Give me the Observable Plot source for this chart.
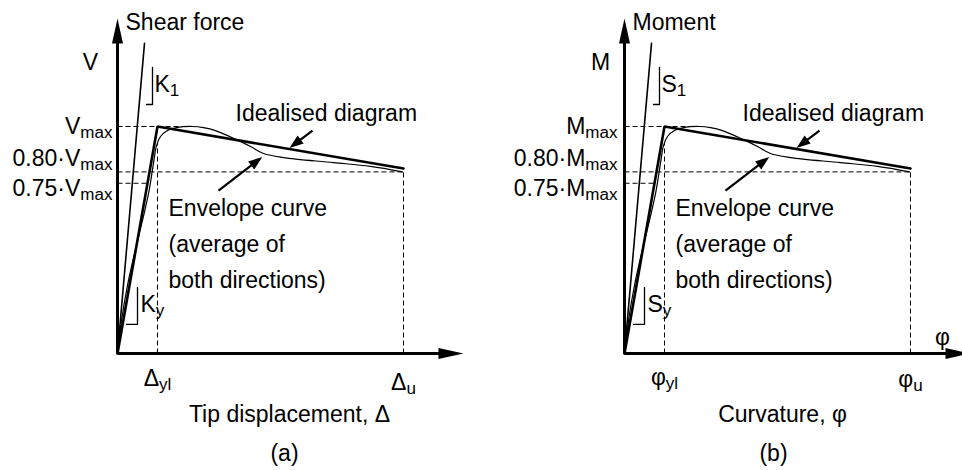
<!DOCTYPE html>
<html><head><meta charset="utf-8">
<script src="https://cdn.jsdelivr.net/npm/d3@7"></script>
<script src="https://cdn.jsdelivr.net/npm/@observablehq/plot@0.6"></script>
<style>
body{margin:0;background:#fff;}
#wrap{position:relative;width:962px;height:470px;overflow:hidden;background:#fff;}
#wrap svg{position:absolute;top:0;}
</style></head><body><div id="wrap"></div>
<script>
// ---------------- DATA (force normalised by Vmax, displacement by Δyl) ----------------
const envelopeDisp  = [0, 0.10, 0.25, 0.425, 0.625, 0.79, 0.91, 0.975, 1.075, 1.25, 1.5, 1.875, 2.15, 2.45, 3.0, 3.325, 3.65, 4.15, 5.4, 6.325, 7.125];
const envelopeForce = [0, 0.145, 0.30, 0.44, 0.586, 0.718, 0.85, 0.916, 0.956, 0.982, 0.996, 1.0, 0.995, 0.982, 0.94, 0.912, 0.881, 0.863, 0.841, 0.824, 0.80];
const idealDisp  = [0, 1, 7.15];
const idealForce = [0, 1, 0.815];
const k1Disp  = [0, 0.675];
const k1Force = [0, 1.366];
const levelValues = [1.0, 0.80, 0.75];
const dispYl = 1;
const dispU  = 7.15;
const axisTopValue = 1.476;
const axisEndValue = 8.65;

const panelALabels = {axisName: "Shear force", sym: "V", levels: ["V_max", "0.80·V_max", "0.75·V_max"],
  k1: "K_1", ky: "K_y", ticks: ["Δ_yl", "Δ_u"], xTitle: "Tip displacement, Δ", tag: "(a)", xSym: null};
const panelBLabels = {axisName: "Moment", sym: "M", levels: ["M_max", "0.80·M_max", "0.75·M_max"],
  k1: "S_1", ky: "S_y", ticks: ["φ_yl", "φ_u"], xTitle: "Curvature, φ", tag: "(b)", xSym: "φ"};

// ---------------- LAYOUT ----------------
const X_RANGE = [117, 157], Y_RANGE = [353, 126];
const PXX = X_RANGE[1] - X_RANGE[0], PXY = Y_RANGE[0] - Y_RANGE[1];
const FS = 23;
const layoutA = {symX: -0.675, xTitleX: 4.3, tagX: 4.175, tickDy: [25, 29], levelDx: -5};
const layoutB = {symX: -0.6, xTitleX: 3.95, tagX: 3.725, tickDy: [24, 26], levelDx: -7};

function headSymbol(ux, uy, len, half) {
  const bx = -ux * len, by = -uy * len, px = -uy * half, py = ux * half;
  return {draw(ctx) { ctx.moveTo(0, 0); ctx.lineTo(bx + px, by + py); ctx.lineTo(bx - px, by - py); ctx.closePath(); }};
}
function arrowMarks(x1, y1, x2, y2, len, half, width) {
  const dxp = (x2 - x1) * PXX, dyp = -(y2 - y1) * PXY;
  const L = Math.hypot(dxp, dyp), ux = dxp / L, uy = dyp / L;
  const sx = x2 - ux * (len - 3) / PXX, sy = y2 + uy * (len - 3) / PXY;
  return [
    Plot.link([0], {x1: [x1], y1: [y1], x2: [sx], y2: [sy], stroke: "black", strokeWidth: width}),
    Plot.dot([0], {x: [x2], y: [y2], symbol: headSymbol(ux, uy, len, half), fill: "black", stroke: "none"})
  ];
}
const T = (text, x, y, o = {}) => Plot.text([0], {x: [x], y: [y], text: [text], fontSize: FS, fill: "black",
  textAnchor: "start", lineAnchor: "middle", ...o});

function interp(xs, ys, x) {
  for (let i = 1; i < xs.length; i++) if (xs[i] >= x) {
    const t = (x - xs[i - 1]) / (xs[i] - xs[i - 1]); return ys[i - 1] + t * (ys[i] - ys[i - 1]);
  }
  return ys[ys.length - 1];
}

function makePanel(lab, lay) {
  const peakDisp = envelopeDisp[d3.maxIndex(envelopeForce)];
  const guides = [
    {x1: 0, y1: levelValues[0], x2: peakDisp, y2: levelValues[0]},
    {x1: 0, y1: levelValues[1], x2: dispU, y2: levelValues[1]},
    {x1: 0, y1: levelValues[2], x2: levelValues[2] * idealDisp[1] / idealForce[1], y2: levelValues[2]},
    {x1: dispYl, y1: 0, x2: dispYl, y2: interp(envelopeDisp, envelopeForce, dispYl)},
    {x1: dispU, y1: 0, x2: dispU, y2: levelValues[1]}
  ];
  const k1Br = [[0.875, 1.26], [0.875, 1.097], [0.725, 1.097]];
  const kyBr = [[0.5, 0.291], [0.5, 0.128], [0.225, 0.128]];
  const marks = [
    Plot.link(guides, {x1: "x1", y1: "y1", x2: "x2", y2: "y2", stroke: "black", strokeWidth: 1, strokeDasharray: "5,3"}),
    Plot.line(k1Disp, {x: k1Disp, y: k1Force, stroke: "black", strokeWidth: 1.6}),
    Plot.line(envelopeDisp, {x: envelopeDisp, y: envelopeForce, curve: "catmull-rom", stroke: "black", strokeWidth: 1.2}),
    Plot.line(idealDisp, {x: idealDisp, y: idealForce, stroke: "black", strokeWidth: 2.6, strokeLinejoin: "miter"}),
    Plot.line(k1Br, {x: d => d[0], y: d => d[1], stroke: "black", strokeWidth: 1.3}),
    Plot.line(kyBr, {x: d => d[0], y: d => d[1], stroke: "black", strokeWidth: 1.3}),
    ...arrowMarks(0, 0, 0, axisTopValue, 25, 5.5, 3),
    ...arrowMarks(0, 0, axisEndValue, 0, 25, 5.5, 3),
    ...arrowMarks(4.875, 0.982, 4.3, 0.905, 14, 5, 2.2),
    ...arrowMarks(2.525, 0.718, 3.62, 0.866, 14, 5, 2.2),
    T(lab.axisName, 0.2, 1.458),
    T(lab.sym, lay.symX, 1.283, {textAnchor: "middle"}),
    T(lab.k1, 0.925, 1.183),
    T(lab.ky, 0.575, 0.216),
    T("Idealised diagram", 2.95, 1.057),
    T("Envelope curve\n(average of\nboth directions)", 1.275, 0.498, {lineHeight: 1.55}),
    T(lab.levels[0], 0, levelValues[0], {textAnchor: "end", dx: lay.levelDx}),
    T(lab.levels[1], 0, levelValues[1], {textAnchor: "end", dx: lay.levelDx, dy: -13}),
    T(lab.levels[2], 0, levelValues[2], {textAnchor: "end", dx: lay.levelDx, dy: 5.5}),
    T(lab.ticks[0], dispYl, 0, {textAnchor: "middle", dy: lay.tickDy[0]}),
    T(lab.ticks[1], dispU, 0, {textAnchor: "middle", dy: lay.tickDy[1]}),
    T(lab.xTitle, lay.xTitleX, 0, {textAnchor: "middle", dy: 61}),
    T(lab.tag, lay.tagX, 0, {textAnchor: "middle", dy: 100})
  ];
  if (lab.xSym) marks.push(T(lab.xSym, 7.95, 0, {textAnchor: "middle", dy: -16}));
  const svg = Plot.plot({
    width: 507, height: 470,
    style: {fontFamily: "'Liberation Sans', Arial, Helvetica, sans-serif", fontSize: FS + "px", background: "transparent", color: "black"},
    x: {domain: [0, 1], range: X_RANGE, axis: null},
    y: {domain: [0, 1], range: Y_RANGE, axis: null},
    marks
  });
  d3.select(svg).selectAll("text").each(function () {
    if (this.childElementCount) return;
    const t = this.textContent, i = t.indexOf("_");
    if (i < 0) return;
    const ns = "http://www.w3.org/2000/svg";
    this.textContent = "";
    const a = document.createElementNS(ns, "tspan"); a.textContent = t.slice(0, i);
    const b = document.createElementNS(ns, "tspan"); b.textContent = t.slice(i + 1);
    b.setAttribute("font-size", "0.74em"); b.setAttribute("dy", "0.24em");
    this.append(a, b);
  });
  return svg;
}

const wrap = document.getElementById("wrap");
const a = makePanel(panelALabels, layoutA); a.style.left = "0px"; wrap.append(a);
const b = makePanel(panelBLabels, layoutB); b.style.left = "507px"; wrap.append(b);
</script></body></html>
